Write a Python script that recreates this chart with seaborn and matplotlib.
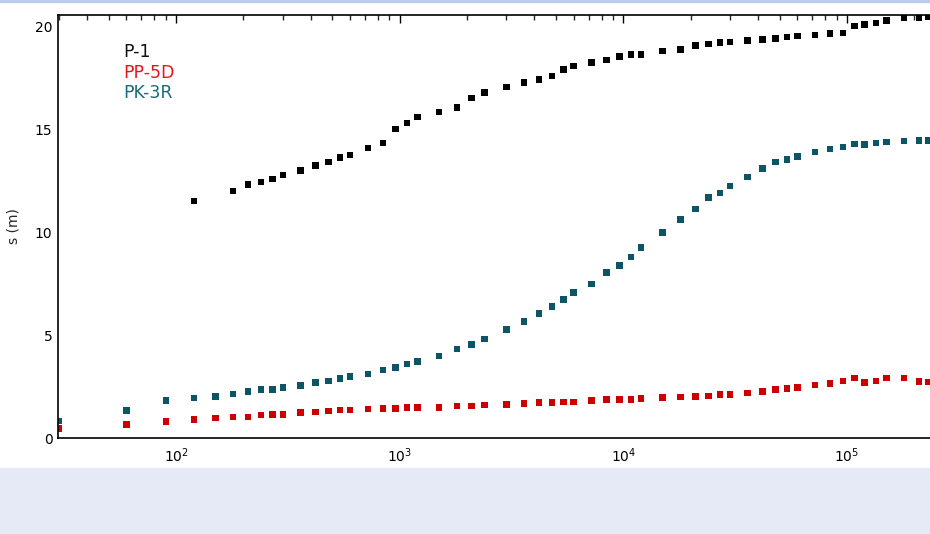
import numpy as np
import pandas as pd
import seaborn as sns
import matplotlib.pyplot as plt
from matplotlib.ticker import LogLocator, MultipleLocator, NullFormatter
from matplotlib.patches import Rectangle

# elapsed time, shared by the three wells
time_s = [30, 60, 90, 120, 150, 180, 210, 240, 270, 300,
          360, 420, 480, 540, 600, 720, 840, 960, 1080, 1200,
          1500, 1800, 2100, 2400, 3000, 3600, 4200, 4800, 5400, 6000,
          7200, 8400, 9600, 10800, 12000, 15000, 18000, 21000, 24000, 27000,
          30000, 36000, 42000, 48000, 54000, 60000, 72000, 84000, 96000, 108000,
          120000, 135000, 150000, 180000, 210000, 230000]

nan = np.nan
p1 = [nan, nan, nan, 11.52, nan, 12.01, 12.34, 12.45, 12.59, 12.79,
      13.02, 13.25, 13.42, 13.64, 13.78, 14.12, 14.35, 15.03, 15.32, 15.61,
      15.85, 16.07, 16.55, 16.80, 17.07, 17.30, 17.45, 17.61, 17.93, 18.09,
      18.26, 18.40, 18.56, 18.65, 18.65, 18.82, 18.89, 19.10, 19.18, 19.23,
      19.26, 19.34, 19.39, 19.43, 19.50, 19.55, 19.60, 19.67, 19.70, 20.05,
      20.12, 20.20, 20.32, 20.43, 20.43, 20.48]

pp5d = [0.45, 0.66, 0.80, 0.91, 0.98, 1.03, 1.03, 1.13, 1.14, 1.14,
        1.23, 1.26, 1.32, 1.37, 1.37, 1.40, 1.44, 1.44, 1.48, 1.48,
        1.49, 1.55, 1.55, 1.60, 1.64, 1.68, 1.73, 1.73, 1.76, 1.76,
        1.82, 1.87, 1.87, 1.87, 1.92, 1.97, 1.99, 2.03, 2.05, 2.12,
        2.12, 2.18, 2.25, 2.35, 2.41, 2.46, 2.59, 2.65, 2.78, 2.93,
        2.70, 2.78, 2.93, 2.93, 2.76, 2.72]

pk3r = [0.82, 1.34, 1.82, 1.94, 2.03, 2.15, 2.25, 2.37, 2.37, 2.46,
        2.55, 2.70, 2.78, 2.90, 2.98, 3.12, 3.30, 3.43, 3.59, 3.71,
        4.00, 4.32, 4.56, 4.81, 5.27, 5.67, 6.06, 6.40, 6.73, 7.09,
        7.50, 8.04, 8.39, 8.80, 9.27, 10.01, 10.63, 11.13, 11.69, 11.93,
        12.25, 12.69, 13.10, 13.42, 13.55, 13.70, 13.91, 14.05, 14.15, 14.30,
        14.28, 14.36, 14.39, 14.44, 14.48, 14.48]

wells = ["P-1", "PP-5D", "PK-3R"]
marker_colors = {"P-1": "#000000", "PP-5D": "#cc0000", "PK-3R": "#0b5566"}
label_colors = {"P-1": "#111111", "PP-5D": "#e8141c", "PK-3R": "#1a6b7a"}

df = pd.DataFrame({
    "t": time_s * 3,
    "s": p1 + pp5d + pk3r,
    "well": [w for w in wells for _ in time_s],
}).dropna()

sns.set_style("white")
plt.rcParams["font.family"] = ["DejaVu Sans"]

W, H = 930, 534
fig = plt.figure(figsize=(W / 100, H / 100), dpi=100)
fig.patches.append(Rectangle((0, 0), 1, 66 / H, transform=fig.transFigure,
                             color="#e6eaf6", zorder=0))
fig.patches.append(Rectangle((0, 1 - 2 / H), 1, 2 / H, transform=fig.transFigure,
                             color="#bccbee", zorder=0))

ax = fig.add_axes([58 / W, 96 / H, (W - 58) / W, 423 / H])
sns.scatterplot(data=df, x="t", y="s", hue="well", palette=marker_colors,
                marker="s", s=22, linewidth=0, legend=False, ax=ax)

ax.set_xscale("log")
ax.set_xlim(10 ** 1.472, 10 ** 5.3714)
ax.set_ylim(0, 20.58)

ax.xaxis.set_major_locator(LogLocator(base=10))
ax.xaxis.set_minor_locator(LogLocator(base=10, subs=np.arange(2, 10)))
ax.xaxis.set_minor_formatter(NullFormatter())
ax.yaxis.set_major_locator(MultipleLocator(5))
ax.yaxis.set_minor_locator(MultipleLocator(1))

ax.tick_params(axis="x", which="major", direction="in", length=6, width=1,
               top=True, labelsize=10, pad=6, colors="black")
ax.tick_params(axis="x", which="minor", direction="in", length=3.6, width=1, top=True)
ax.tick_params(axis="y", which="major", direction="in", length=13.5, width=1,
               labelsize=10, pad=4, colors="black")
ax.tick_params(axis="y", which="minor", direction="in", length=7.5, width=1)

for side in ["left", "bottom", "top"]:
    ax.spines[side].set_color("black")
    ax.spines[side].set_linewidth(1.2)
ax.spines["right"].set_visible(False)

ax.set_xlabel("")
ax.set_ylabel("s (m)", fontsize=10, labelpad=10)

ypos = [0.913, 0.8636, 0.815]
for w, yy in zip(wells, ypos):
    ax.text(0.0745, yy, w, color=label_colors[w], fontsize=12.5,
            ha="left", va="center", transform=ax.transAxes)

fig.savefig("out.png", dpi=100, facecolor="white")
